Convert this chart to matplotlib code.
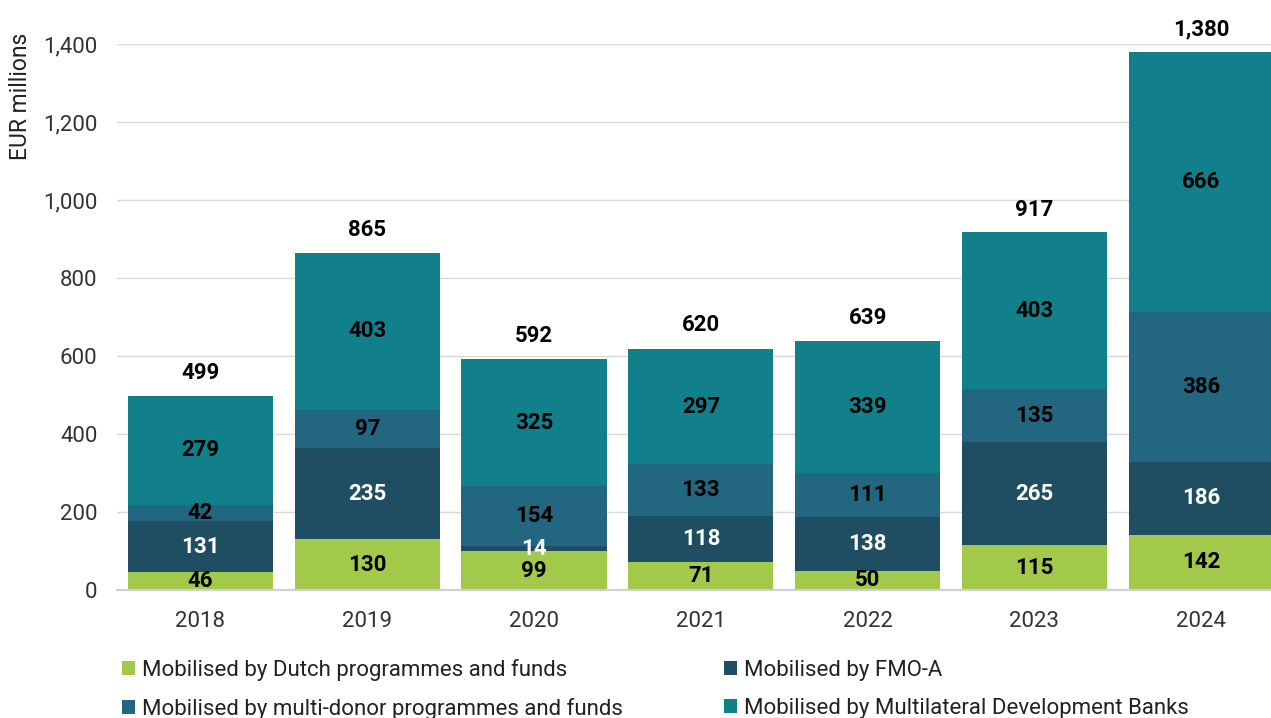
import numpy as np
import matplotlib.pyplot as plt
from matplotlib.patches import Patch

plt.rcParams['font.family'] = ['Roboto', 'DejaVu Sans']

years = ["2018", "2019", "2020", "2021", "2022", "2023", "2024"]
dutch = [46, 130, 99, 71, 50, 115, 142]
fmo_a = [131, 235, 14, 118, 138, 265, 186]
multi_donor = [42, 97, 154, 133, 111, 135, 386]
mdb = [279, 403, 325, 297, 339, 403, 666]
totals = [499, 865, 592, 620, 639, 917, 1380]

series = [dutch, fmo_a, multi_donor, mdb]
names = ["Mobilised by Dutch programmes and funds",
         "Mobilised by FMO-A",
         "Mobilised by multi-donor programmes and funds",
         "Mobilised by Multilateral Development Banks"]
colors = ["#a2c94a", "#1f4e63", "#22677f", "#12808a"]
label_colors = ["black", "white", "black", "black"]

fig = plt.figure(figsize=(12.71, 7.18), dpi=100)
ax = fig.add_axes([117 / 1271, 1 - 590 / 718, 1 - 117 / 1271, (590 - 44.3) / 718])

x = np.arange(len(years))
bottom = np.zeros(len(years))
for vals, col, lc in zip(series, colors, label_colors):
    vals = np.array(vals, dtype=float)
    ax.bar(x, vals, 0.87, bottom=bottom, color=col, zorder=2)
    for xi, b, v in zip(x, bottom, vals):
        ax.text(xi, b + v / 2, str(int(v)), ha='center', va='center',
                fontsize=16, fontweight='bold', color=lc, zorder=3)
    bottom += vals

for xi, t in zip(x, totals):
    ax.annotate(f"{t:,}", (xi, t), xytext=(0, 16.5), textcoords='offset points',
                ha='center', va='center', fontsize=16, fontweight='bold',
                annotation_clip=False)

ax.set_xlim(-0.5, 6.418)
ax.set_ylim(0, 1400)
ax.set_yticks(range(0, 1401, 200))
ax.set_yticklabels([f"{v:,}" for v in range(0, 1401, 200)])
ax.set_xticks(x)
ax.set_xticklabels(years)
ax.tick_params(axis='both', length=0, labelsize=16, colors='#333333')
ax.tick_params(axis='y', pad=14)
ax.tick_params(axis='x', pad=15)
ax.grid(axis='y', color='#d9d9d9', linewidth=1, zorder=0)
for s in ['top', 'right', 'left']:
    ax.spines[s].set_visible(False)
ax.spines['bottom'].set_color('#d0d0d0')
ax.spines['bottom'].set_linewidth(1.6)
ax.spines['bottom'].set_zorder(4)

fig.text(21 / 1271, 1 - 33 / 718, "EUR millions", rotation=90, ha='center', va='top',
         fontsize=16.5, color='#222222')

order = [0, 2, 1, 3]
handles = [Patch(facecolor=colors[i]) for i in order]
fig.legend(handles, [names[i] for i in order], ncol=2, frameon=False,
           loc='upper left', bbox_to_anchor=(111 / 1271, 1 - 648 / 718),
           fontsize=16, handlelength=0.6, handleheight=0.6, handletextpad=0.3,
           columnspacing=4.55, labelspacing=0.75, borderpad=0, labelcolor='#222222')

fig.savefig("out.png", dpi=100)
